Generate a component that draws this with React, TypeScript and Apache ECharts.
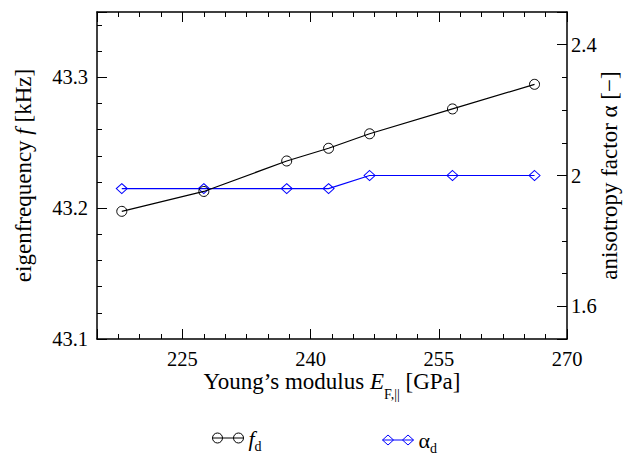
import React, { useEffect, useRef } from 'react';
import * as echarts from 'echarts';

// Young's modulus E_F,|| [GPa]
const youngModulus = [217.9, 227.5, 237.2, 242.1, 246.9, 256.6, 266.2];
// eigenfrequency f_d [kHz]
const eigenfrequency = [43.1976, 43.2128, 43.2361, 43.2458, 43.2569, 43.2759, 43.2947];
// anisotropy factor alpha_d [-]
const anisotropy = [1.96, 1.96, 1.96, 1.96, 2.0, 2.0, 2.0];

const xRange = [215, 270];
const xStep = 15;
const fRange = [43.1, 43.35];
const fStep = 0.1;
const aRange = [1.5, 2.5];
const aStep = 0.4;

const FONT = 'Liberation Serif, Times New Roman, serif';
const BLUE = '#0000ff';

export default function App() {
  const ref = useRef<HTMLDivElement>(null);

  useEffect(() => {
    if (!ref.current) return;
    const chart = echarts.init(ref.current, undefined, { renderer: 'svg' });

    const axisLine = { show: true, onZero: false, lineStyle: { color: '#000', width: 1.5 } };
    const axisTick = { show: true, inside: true, length: 10, lineStyle: { color: '#000', width: 1 } };
    const minorTick = (n: number) => ({ show: true, splitNumber: n, length: 5, lineStyle: { color: '#000', width: 1 } });
    const label = { fontSize: 20.5, color: '#000', fontFamily: FONT };
    const nameStyle = {
      fontSize: 23,
      color: '#000',
      fontFamily: FONT,
      rich: {
        n: { fontSize: 23, fontFamily: FONT, color: '#000', lineHeight: 39 },
        i: { fontSize: 23, fontFamily: FONT, color: '#000', fontStyle: 'italic', lineHeight: 39 },
        s: { fontSize: 14, fontFamily: FONT, color: '#000', verticalAlign: 'bottom', lineHeight: 14 },
      },
    };
    const legendText = {
      fontSize: 22,
      color: '#000',
      fontFamily: FONT,
      rich: {
        i: { fontSize: 22, fontFamily: FONT, color: '#000', fontStyle: 'italic', lineHeight: 31 },
        a: { fontSize: 22, fontFamily: FONT, color: '#000', lineHeight: 31 },
        s: { fontSize: 14, fontFamily: FONT, color: '#000', verticalAlign: 'bottom', lineHeight: 14 },
      },
    };

    const circleIcon =
      'path://M0,5A5,5,0,1,1,10,5A5,5,0,1,1,0,5ZM21,5A5,5,0,1,1,31,5A5,5,0,1,1,21,5ZM0,5L31,5';
    const diamondIcon = 'path://M0,5L5.5,0L11,5L5.5,10ZM20,5L25.5,0L31,5L25.5,10ZM0,5L31,5';

    const option: any = {
      animation: false,
      backgroundColor: '#fff',
      textStyle: { fontFamily: FONT, color: '#000' },
      grid: { left: 97, right: 58, top: 12, bottom: 120, containLabel: false, outerBoundsMode: 'none' },
      legend: [
        {
          data: ['f_d'],
          left: 212,
          top: 427,
          padding: 0,
          itemWidth: 31,
          itemHeight: 10,
          icon: circleIcon,
          selectedMode: false,
          itemStyle: { color: 'transparent', borderColor: '#000', borderWidth: 1 },
          textStyle: legendText,
          formatter: () => '{i|f}{s|d}',
        },
        {
          data: ['α_d'],
          left: 382,
          top: 429,
          padding: 0,
          itemWidth: 31,
          itemHeight: 10,
          icon: diamondIcon,
          selectedMode: false,
          itemStyle: { color: 'transparent', borderColor: BLUE, borderWidth: 1 },
          textStyle: legendText,
          formatter: () => '{a|α}{s|d}',
        },
      ],
      xAxis: [
        {
          type: 'value',
          position: 'bottom',
          min: xRange[0],
          max: xRange[1],
          minInterval: xStep,
          maxInterval: xStep,
          splitNumber: 4,
          axisLine,
          axisTick,
          minorTick: minorTick(6),
          splitLine: { show: false },
          minorSplitLine: { show: false },
          axisLabel: { ...label, margin: 9, showMinLabel: false },
          name: '{n|Young’s modulus }{i|E}{s|F,||}{n| [GPa]}',
          nameLocation: 'middle',
          nameGap: 23,
          nameMoveOverlap: false,
          nameTextStyle: nameStyle,
        },
        {
          type: 'value',
          position: 'top',
          min: xRange[0],
          max: xRange[1],
          minInterval: xStep,
          maxInterval: xStep,
          splitNumber: 4,
          axisLine,
          axisTick,
          minorTick: minorTick(6),
          splitLine: { show: false },
          axisLabel: { show: false },
        },
      ],
      yAxis: [
        {
          type: 'value',
          position: 'left',
          min: fRange[0],
          max: fRange[1],
          interval: fStep,
          axisLine,
          axisTick,
          minorTick: minorTick(5),
          splitLine: { show: false },
          axisLabel: { ...label, margin: 9, showMaxLabel: false },
          name: '{n|eigenfrequency }{i|f}{n| [kHz]}',
          nameLocation: 'middle',
          nameGap: 54,
          nameMoveOverlap: false,
          nameTextStyle: nameStyle,
        },
        {
          type: 'value',
          position: 'right',
          min: aRange[0],
          max: aRange[1],
          minInterval: aStep,
          maxInterval: aStep,
          splitNumber: 2,
          axisLine,
          axisTick,
          minorTick: minorTick(4),
          splitLine: { show: false },
          axisLabel: { ...label, margin: 4, showMinLabel: false, showMaxLabel: false },
          name: '{n|anisotropy factor α [−]}',
          nameLocation: 'middle',
          nameGap: 23,
          nameMoveOverlap: false,
          nameTextStyle: nameStyle,
        },
      ],
      series: [
        {
          name: 'f_d',
          type: 'line',
          xAxisIndex: 0,
          yAxisIndex: 0,
          data: youngModulus.map((x, i) => [x, eigenfrequency[i]]),
          symbol: 'circle',
          symbolSize: 10,
          showAllSymbol: true,
          itemStyle: { color: 'transparent', borderColor: '#000', borderWidth: 1 },
          lineStyle: { color: '#000', width: 1.2 },
          z: 3,
        },
        {
          name: 'α_d',
          type: 'line',
          xAxisIndex: 0,
          yAxisIndex: 1,
          data: youngModulus.map((x, i) => [x, anisotropy[i]]),
          symbol: 'diamond',
          symbolSize: [11, 10],
          showAllSymbol: true,
          itemStyle: { color: 'transparent', borderColor: BLUE, borderWidth: 1 },
          lineStyle: { color: BLUE, width: 1.2 },
          z: 2,
        },
      ],
    };

    chart.setOption(option);
    return () => chart.dispose();
  }, []);

  return (
    <div
      ref={ref}
      style={{ position: 'fixed', left: 0, top: 0, width: 625, height: 459, background: '#fff' }}
    />
  );
}
